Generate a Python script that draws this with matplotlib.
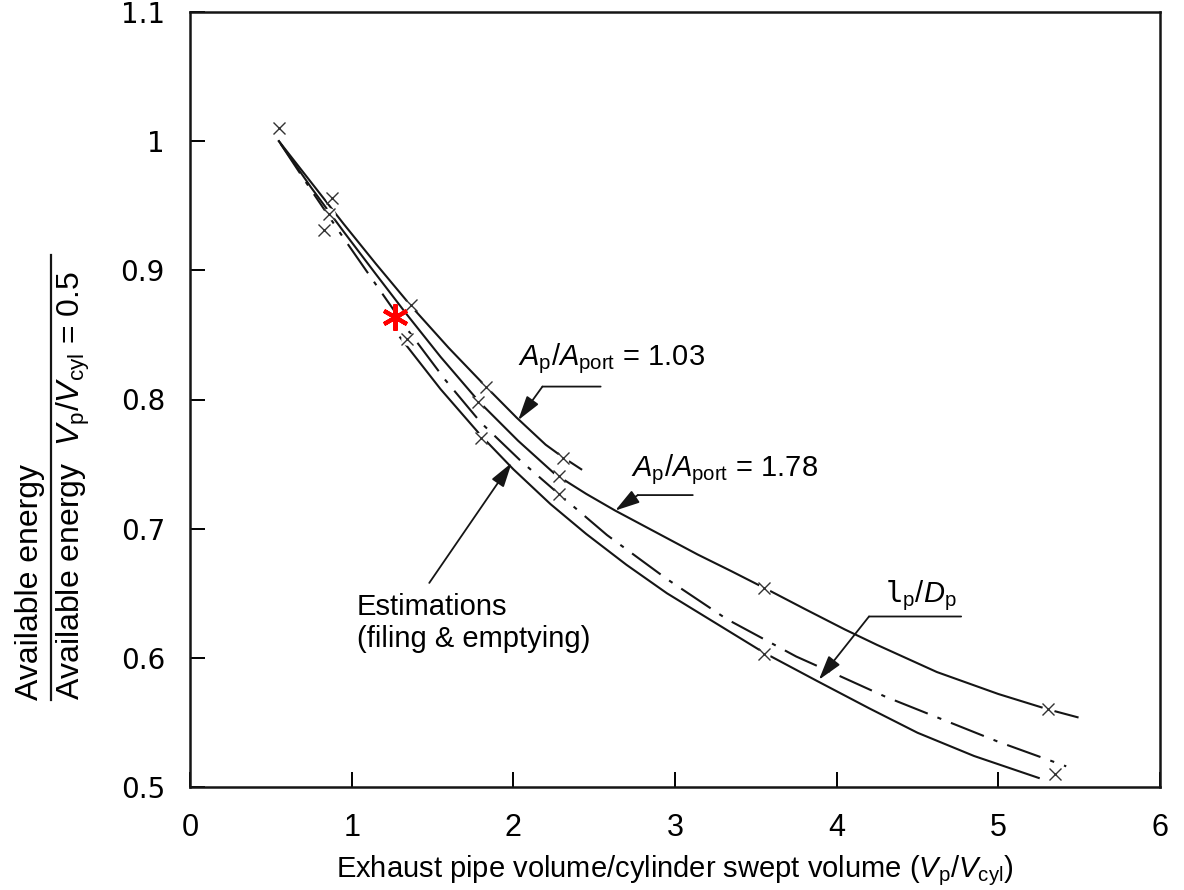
import matplotlib.pyplot as plt
from matplotlib.lines import Line2D

# values
x_103 = [0.55, 0.75, 0.95, 1.15, 1.37, 1.60, 1.83, 2.02, 2.20, 2.31, 2.42]
y_103 = [1.000, 0.968, 0.936, 0.905, 0.872, 0.840, 0.810, 0.786, 0.765, 0.755, 0.746]

x_178 = [0.55, 0.75, 0.95, 1.15, 1.34, 1.55, 1.79, 2.03, 2.26, 2.45, 2.63, 2.90, 3.14,
         3.35, 3.57, 3.80, 4.05, 4.25, 4.62, 5.00, 5.31, 5.49]
y_178 = [1.000, 0.964, 0.930, 0.897, 0.866, 0.833, 0.798, 0.768, 0.742, 0.727, 0.714,
         0.696, 0.680, 0.667, 0.653, 0.638, 0.622, 0.610, 0.589, 0.572, 0.560, 0.554]

x_lpdp = [0.56, 0.75, 0.95, 1.15, 1.34, 1.58, 1.80, 2.05, 2.28, 2.58, 2.95, 3.32, 3.75,
          4.00, 4.30, 4.62, 5.00, 5.42]
y_lpdp = [0.998, 0.962, 0.925, 0.889, 0.855, 0.815, 0.782, 0.752, 0.727, 0.695, 0.661,
          0.630, 0.601, 0.587, 0.570, 0.554, 0.535, 0.516]

x_est = [1.30, 1.55, 1.80, 2.00, 2.23, 2.45, 2.70, 2.95, 3.25, 3.55, 3.88, 4.20, 4.50,
         4.85, 5.25]
y_est = [0.848, 0.808, 0.772, 0.746, 0.719, 0.696, 0.672, 0.650, 0.627, 0.604, 0.582,
         0.561, 0.542, 0.524, 0.507]

mark_x = [0.55, 0.88, 0.86, 0.83, 1.37, 1.34, 1.83, 1.78, 1.80, 2.31, 2.28, 2.28,
          3.55, 3.55, 5.31, 5.35]
mark_y = [1.010, 0.956, 0.944, 0.931, 0.873, 0.847, 0.810, 0.798, 0.770, 0.755, 0.741,
          0.727, 0.654, 0.603, 0.560, 0.510]

star_x = [1.27]
star_y = [0.864]

xticks = [0, 1, 2, 3, 4, 5, 6]
yticks = [0.5, 0.6, 0.7, 0.8, 0.9, 1.0, 1.1]
yticklabels = ['0.5', '0.6', '0.7', '0.8', '0.9', '1', '1.1']

plt.rcParams['font.family'] = ['Liberation Sans', 'DejaVu Sans']
plt.rcParams['mathtext.fontset'] = 'custom'
plt.rcParams['mathtext.rm'] = 'Liberation Sans'
plt.rcParams['mathtext.it'] = 'Liberation Sans:italic'
plt.rcParams['mathtext.tt'] = 'DejaVu Sans Mono'

ink = '#151515'
fig = plt.figure(figsize=(11.84, 8.9), dpi=100)
ax = fig.add_axes([190 / 1184, 103 / 890, 970 / 1184, 775 / 890])

ax.plot(x_103, y_103, color=ink, lw=1.5, zorder=2)
ax.plot(x_178, y_178, color=ink, lw=1.5, zorder=2)
dd, = ax.plot(x_lpdp, y_lpdp, color=ink, lw=1.5, zorder=2)
dd.set_dashes([17, 5, 2, 5])
ax.plot(x_est, y_est, color=ink, lw=1.5, zorder=2)

# break the lines around the crosses
ax.plot(mark_x, mark_y, 'o', ms=9, mfc='white', mec='none', zorder=3)
ax.plot(mark_x, mark_y, 'x', ms=8.5, mew=1.0, color='#333333', zorder=4)
ax.plot(star_x, star_y, marker=(6, 2, 0), ms=19, mew=3, color='red',
        ls='none', zorder=5)

ax.set_xlim(0, 6)
ax.set_ylim(0.5, 1.1)
ax.set_xticks(xticks)
ax.set_xticklabels([str(t) for t in xticks], family='Liberation Sans', fontsize=22)
ax.set_yticks(yticks)
ax.set_yticklabels(yticklabels, family='DejaVu Sans', fontsize=20)
ax.tick_params(direction='in', length=11, width=1.4, top=False, right=False)
ax.tick_params(axis='x', pad=19)
ax.tick_params(axis='y', pad=18)
for s in ax.spines.values():
    s.set_linewidth(1.8)
    s.set_color(ink)

ax.set_xlabel(r'Exhaust pipe volume/cylinder swept volume ($V_\mathrm{p}/V_\mathrm{cyl}$)',
              fontsize=21)
ax.xaxis.set_label_coords(0.5, -0.108)
ax.xaxis.label.set_va('center')

# y label as a fraction
fig.text(30 / 1184, 190 / 890, 'Available energy', rotation=90, fontsize=23,
         ha='center', va='bottom')
fig.text(73 / 1184, 190 / 890,
         r'Available energy  $V_\mathrm{p}/V_\mathrm{cyl}$ = 0.5',
         rotation=90, fontsize=23, ha='center', va='bottom')
fig.add_artist(Line2D([51 / 1184, 51 / 1184], [190 / 890, 635 / 890],
                      color=ink, lw=1.6))

head = dict(arrowstyle='-|>,head_length=0.75,head_width=0.22', color=ink,
            lw=1.3, mutation_scale=20, shrinkA=0, shrinkB=0)
plain = dict(arrowstyle='-', color=ink, lw=1.3, shrinkA=0, shrinkB=0)

ax.text(2.03, 0.8266, r'$A_\mathrm{p}/A_\mathrm{port}$ = 1.03', fontsize=21)
ax.annotate('', xy=(2.54, 0.810), xytext=(2.18, 0.810), arrowprops=plain)
ax.annotate('', xy=(2.03, 0.784), xytext=(2.18, 0.810), arrowprops=head)

ax.text(2.73, 0.7407, r'$A_\mathrm{p}/A_\mathrm{port}$ = 1.78', fontsize=21)
ax.annotate('', xy=(3.11, 0.726), xytext=(2.77, 0.726), arrowprops=plain)
ax.annotate('', xy=(2.63, 0.714), xytext=(2.77, 0.726), arrowprops=head)

ax.text(4.30, 0.643, r'$\mathtt{l}_\mathrm{p}/D_\mathrm{p}$', fontsize=21)
ax.annotate('', xy=(4.77, 0.632), xytext=(4.20, 0.632), arrowprops=plain)
ax.annotate('', xy=(3.89, 0.583), xytext=(4.20, 0.632), arrowprops=head)

ax.text(1.03, 0.650, 'Estimations\n(filing & emptying)', fontsize=21,
        ha='left', va='top', linespacing=1.15)
ax.annotate('', xy=(1.99, 0.751), xytext=(1.48, 0.658), arrowprops=head)

fig.savefig('out.png', dpi=100)
